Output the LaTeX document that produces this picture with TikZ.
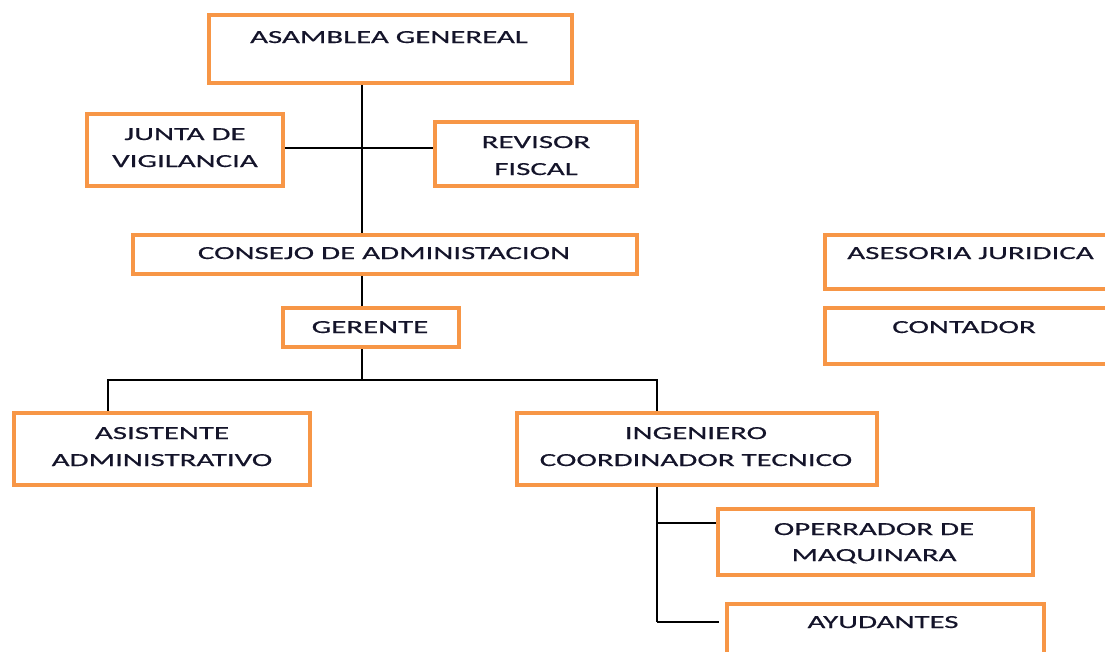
\documentclass[tikz,border=0pt]{standalone}
\usepackage{fontspec}
\setmainfont{Carlito}[FakeStretch=1.68,FakeBold=0.5]
\definecolor{boxorange}{HTML}{F79646}
\definecolor{txt}{HTML}{14142A}
\begin{document}
\begin{tikzpicture}[x=1pt,y=-1pt,
  box/.style={draw=boxorange,line width=4.5pt,rectangle,inner sep=0pt,fill=white},
  lbl/.style={text=txt,font=\fontsize{18.4}{27}\selectfont,inner sep=0pt,anchor=base},
  conn/.style={draw=black,line width=1.4pt}]
\useasboundingbox (0,0) rectangle (1105,651);
\clip (0,0) rectangle (1105,651);
% boxes
\node[box,minimum width=363pt,minimum height=68pt] (asamblea) at (390.5,49) {};
\node[box,minimum width=196pt,minimum height=72pt] (junta) at (185,150) {};
\node[box,minimum width=202pt,minimum height=64pt] (revisor) at (536,154) {};
\node[box,minimum width=504pt,minimum height=39pt] (consejo) at (385,254.5) {};
\node[box,minimum width=176pt,minimum height=39pt] (gerente) at (371,327.5) {};
\node[box,minimum width=295pt,minimum height=54pt] (asesoria) at (972.5,262) {};
\node[box,minimum width=295pt,minimum height=56pt] (contador) at (972.5,336) {};
\node[box,minimum width=296pt,minimum height=72pt] (asistente) at (162,449) {};
\node[box,minimum width=360pt,minimum height=72pt] (ingeniero) at (697,449) {};
\node[box,minimum width=315pt,minimum height=66pt] (operrador) at (875.5,542) {};
\node[box,minimum width=317pt,minimum height=76pt] (ayudantes) at (885.5,642) {};
% connector coordinates
\coordinate (trunk) at (362,148);
\coordinate (bus) at (362,380);
\coordinate (busL) at (108,380);
\coordinate (busR) at (657,380);
\coordinate (opy) at (657,523);
\coordinate (ayy) at (657,622);
% connectors
\draw[conn] (asamblea.south -| trunk) -- (consejo.north -| trunk);
\draw[conn] (junta.east |- trunk) -- (revisor.west |- trunk);
\draw[conn] (consejo.south -| trunk) -- (gerente.north -| trunk);
\draw[conn] (gerente.south -| trunk) -- (bus);
\draw[conn] (busL |- asistente.north) -- (busL) -- (busR) -- (busR |- ingeniero.north);
\draw[conn] (ingeniero.south -| busR) -- (ayy);
\draw[conn] (opy) -- (operrador.west |- opy);
\draw[conn,shorten >=6pt] (ayy) -- (ayudantes.west |- ayy);
% texts
\node[lbl] (t1) at (389,43) {ASAMBLEA GENEREAL};
\node[lbl] (t2) at (185,140) {JUNTA DE};
\node[lbl] (t3) at (185,167) {VIGILANCIA};
\node[lbl] (t4) at (536,148) {REVISOR};
\node[lbl] (t5) at (536,175) {FISCAL};
\node[lbl] (t6) at (384,259) {CONSEJO DE ADMINISTACION};
\node[lbl] (t7) at (370,333) {GERENTE};
\node[lbl] (t8) at (970.5,259) {ASESORIA JURIDICA};
\node[lbl] (t9) at (964,333) {CONTADOR};
\node[lbl] (t10) at (162,439) {ASISTENTE};
\node[lbl] (t11) at (162,466) {ADMINISTRATIVO};
\node[lbl] (t12) at (696,439) {INGENIERO};
\node[lbl] (t13) at (696,466) {COORDINADOR TECNICO};
\node[lbl] (t14) at (874,535) {OPERRADOR DE};
\node[lbl] (t15) at (874,561) {MAQUINARA};
\node[lbl] (t16) at (883,628) {AYUDANTES};
\end{tikzpicture}
\end{document}
